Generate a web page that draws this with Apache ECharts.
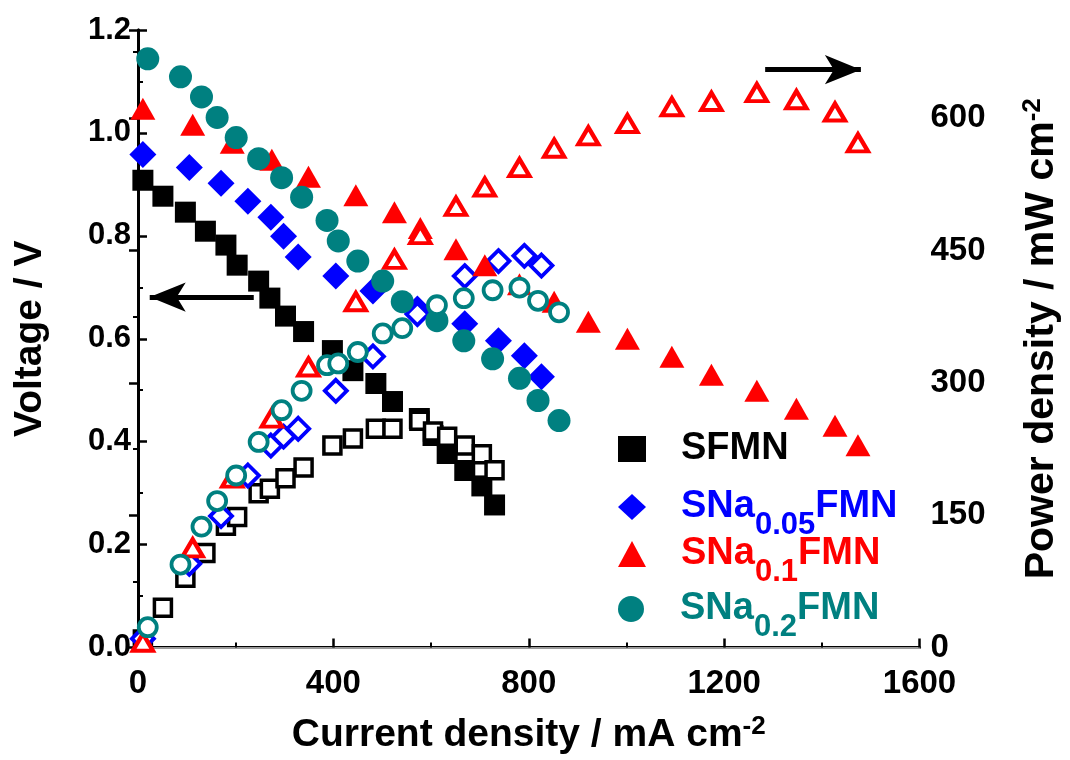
<!DOCTYPE html>
<html>
<head>
<meta charset="utf-8">
<script src="https://cdn.jsdelivr.net/npm/echarts@6/dist/echarts.min.js"></script>
<style>
html,body{margin:0;padding:0;background:#fff;}
#chart{width:1070px;height:760px;}
</style>
</head>
<body>
<div id="chart"></div>
<script>
// ---- data ----
const sfmnCurrent = [10,51,97,138,180,203,247,270,302,339,398,440,487,521,576,604,633,669,704,730];
const sfmnVoltage = [0.908,0.877,0.846,0.809,0.782,0.743,0.712,0.679,0.644,0.614,0.577,0.538,0.513,0.478,0.445,0.412,0.377,0.344,0.314,0.277];
const sfmnPower   = [9,45,79,107,138,148,175,180,192,204,229,237,248,248,257,245,239,229,219,201];

const na05Current = [10,105,170,225,272,298,328,405,481,572,669,738,791,826];
const na05Voltage = [0.958,0.933,0.902,0.867,0.836,0.799,0.759,0.722,0.693,0.658,0.629,0.596,0.567,0.526];
const na05Power   = [10,95,149,195,229,239,248,291,330,378,421,438,444,433];

const na1Current = [10,112,193,274,349,446,525,578,651,710,781,852,922,1002,1093,1174,1267,1348,1427,1474];
const na1Voltage = [1.047,1.016,0.981,0.948,0.915,0.879,0.846,0.815,0.774,0.743,0.706,0.672,0.633,0.600,0.565,0.530,0.499,0.464,0.431,0.393];
const na1Power   = [6,113,192,260,318,392,440,468,500,522,544,566,580,594,613,619,629,621,607,572];

const na2Current = [20,87,130,162,201,247,294,335,387,410,450,501,541,612,667,726,781,819,862];
const na2Voltage = [1.144,1.109,1.070,1.030,0.991,0.950,0.913,0.875,0.830,0.790,0.751,0.712,0.672,0.635,0.596,0.561,0.523,0.480,0.441];
const na2Power   = [23,94,137,166,195,233,269,291,320,322,335,356,362,388,396,405,408,393,380];

const seriesNames = ['SFMN','SNa0.05FMN','SNa0.1FMN','SNa0.2FMN'];
const xTicks = [0,400,800,1200,1600];
const leftTicks = [0.0,0.2,0.4,0.6,0.8,1.0,1.2];
const rightTicks = [0,150,300,450,600];

// ---- styling ----
const FONT = 'Liberation Sans, Arial, sans-serif';
const colors = ['#000000','#0000ff','#ff0000','#008080'];
const filledSym = ['rect','diamond','triangle','circle'];
const filledSize = [21,27,[25,22],23];
const emptySize = [17,22,[20,17],18];
const emptyBorder = [3.5,3.8,4.2,3.8];

function pairs(xs, ys){ return xs.map((x,i)=>[x, ys[i]]); }
const groups = [
  [sfmnCurrent, sfmnVoltage, sfmnPower],
  [na05Current, na05Voltage, na05Power],
  [na1Current, na1Voltage, na1Power],
  [na2Current, na2Voltage, na2Power]
];

const series = [];
groups.forEach((g, i) => {
  series.push({
    name: seriesNames[i], type: 'scatter', xAxisIndex: 0, yAxisIndex: 0,
    data: pairs(g[0], g[1]), symbol: filledSym[i], symbolSize: filledSize[i],
    itemStyle: {color: colors[i], opacity: 1}, z: 3 + i*2
  });
  series.push({
    name: seriesNames[i] + ' P', type: 'scatter', xAxisIndex: 0, yAxisIndex: 1,
    data: pairs(g[0], g[2]), symbol: filledSym[i], symbolSize: emptySize[i],
    itemStyle: {color: '#ffffff', borderColor: colors[i], borderWidth: emptyBorder[i], opacity: 1}, z: 4 + i*2
  });
});

// arrows (annotations in data coordinates)
series.push({
  type: 'scatter', xAxisIndex: 0, yAxisIndex: 0, data: [], silent: true,
  markLine: {
    silent: true, animation: false, symbol: ['none','arrow'], symbolSize: [22, 36],
    lineStyle: {color: '#000', width: 5, type: 'solid'}, label: {show: false},
    data: [[{coord: [237, 0.681]}, {coord: [24, 0.681]}]]
  }
});
series.push({
  type: 'scatter', xAxisIndex: 0, yAxisIndex: 1, data: [], silent: true,
  markLine: {
    silent: true, animation: false, symbol: ['none','arrow'], symbolSize: [22, 36],
    lineStyle: {color: '#000', width: 5, type: 'solid'}, label: {show: false},
    data: [[{coord: [1284, 655]}, {coord: [1480, 655]}]]
  }
});

const subs = {'SFMN': null, 'SNa0.05FMN': '0.05', 'SNa0.1FMN': '0.1', 'SNa0.2FMN': '0.2'};
function legendFor(i, top){
  const name = seriesNames[i];
  const sub = subs[name];
  const rich = {
    m: {fontFamily: FONT, fontWeight: 'bold', fontSize: 38, color: colors[i]},
    s: {fontFamily: FONT, fontWeight: 'bold', fontSize: 31, color: colors[i], padding: [36,0,0,0]}
  };
  return {
    left: 613, top: top, orient: 'vertical', selectedMode: false,
    itemWidth: 28, itemHeight: 26, itemGap: 0,
    data: [{name: name, icon: filledSym[i], itemStyle: {color: colors[i]}}],
    formatter: function(n){ return sub ? '{m|SNa}{s|' + sub + '}{m|FMN}' : '{m|' + n + '}'; },
    textStyle: {rich: rich, padding: [0,0,0,30], fontSize: 38, fontWeight: 'bold', color: colors[i]}
  };
}

const leftLabelStyle = {fontFamily: FONT, fontWeight: 'bold', fontSize: 31, color: '#000'};
const axisLabelStyle = {fontFamily: FONT, fontWeight: 'bold', fontSize: 33, color: '#000'};
const nameStyleBase = {fontFamily: FONT, fontWeight: 'bold', fontSize: 39, color: '#000'};
const nameStyleRight = {fontFamily: FONT, fontWeight: 'bold', fontSize: 41, color: '#000'};
const supStyle = {fontFamily: FONT, fontWeight: 'bold', fontSize: 26, color: '#000', padding: [0,0,18,0]};

const option = {
  animation: false,
  backgroundColor: '#fff',
  grid: {left: 138, right: 143, top: 30, bottom: 110, containLabel: false},
  legend: [legendFor(0, 425), legendFor(1, 483), legendFor(2, 530), legendFor(3, 585)],
  xAxis: [{
    type: 'value', min: xTicks[0], max: xTicks[xTicks.length-1], interval: 400,
    position: 'bottom',
    name: '{n|Current density / mA cm}{p|-2}', nameLocation: 'middle', nameGap: 66,
    nameTextStyle: {rich: {n: nameStyleBase, p: supStyle}},
    axisLine: {show: true, lineStyle: {color: '#000', width: 3}},
    axisTick: {show: true, inside: true, length: 9, lineStyle: {width: 2.5, color: '#000'}},
    minorTick: {show: true, splitNumber: 2, length: 5, lineStyle: {width: 2, color: '#000'}},
    axisLabel: Object.assign({margin: 20, formatter: v => String(v)}, axisLabelStyle),
    splitLine: {show: false}
  }, {
    type: 'value', min: 0, max: 1600, position: 'top',
    axisLine: {show: true, lineStyle: {color: '#9a9a9a', width: 2}},
    axisTick: {show: false}, axisLabel: {show: false}, splitLine: {show: false}
  }],
  yAxis: [{
    type: 'value', min: 0, max: 1.2, interval: 0.2, position: 'left',
    name: 'Voltage / V', nameLocation: 'middle', nameGap: 88, nameRotate: 90,
    nameTextStyle: nameStyleBase,
    axisLine: {show: true, lineStyle: {color: '#000', width: 3}},
    axisTick: {show: true, inside: true, length: 9, lineStyle: {width: 2.5, color: '#000'}},
    minorTick: {show: true, splitNumber: 2, length: 5, lineStyle: {width: 2, color: '#000'}},
    axisLabel: Object.assign({margin: 7, formatter: v => v.toFixed(1)}, leftLabelStyle),
    splitLine: {show: false}
  }, {
    type: 'value', min: 0, max: 700, interval: 150, position: 'right',
    name: '{n|Power density / mW cm}{p|-2}', nameLocation: 'middle', nameGap: 100, nameRotate: 90,
    nameTextStyle: {rich: {n: nameStyleRight, p: supStyle}},
    axisLine: {show: true, lineStyle: {color: '#000', width: 3}},
    axisTick: {show: true, inside: true, length: 9, lineStyle: {width: 2.5, color: '#000'}},
    minorTick: {show: true, splitNumber: 2, length: 5, lineStyle: {width: 2, color: '#000'}},
    axisLabel: Object.assign({margin: 11, showMaxLabel: false,
      formatter: v => (rightTicks.indexOf(v) >= 0 ? String(v) : '')}, axisLabelStyle),
    splitLine: {show: false}
  }],
  series: series
};

const chart = echarts.init(document.getElementById('chart'), null, {renderer: 'canvas'});
chart.setOption(option);
</script>
</body>
</html>
